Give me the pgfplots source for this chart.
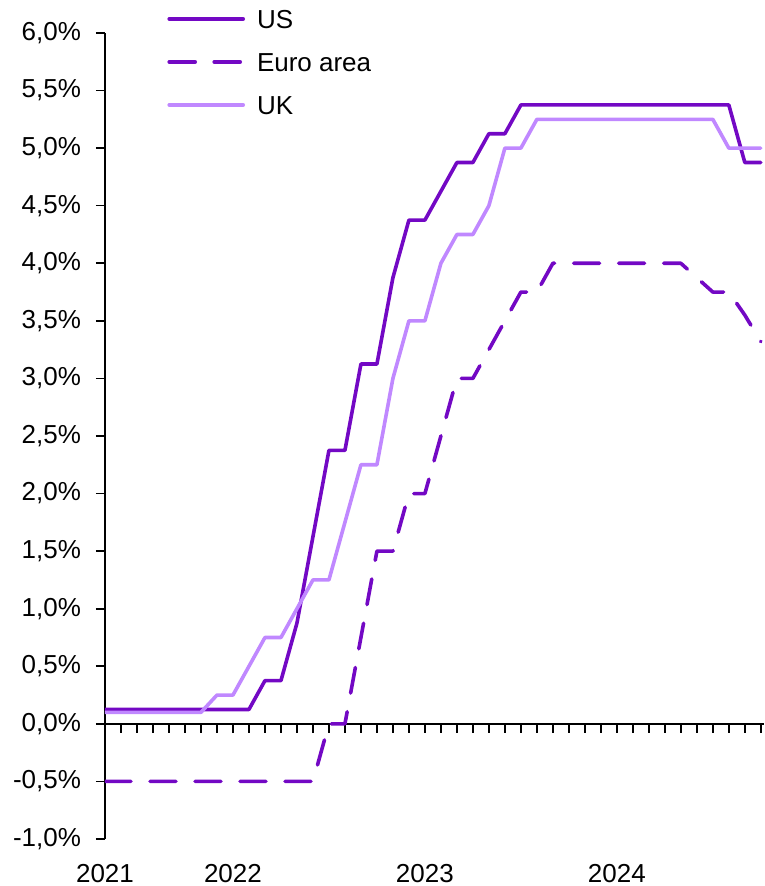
\documentclass[border=0pt]{standalone}
\usepackage{fontspec}
\setmainfont{Liberation Sans}
\usepackage{pgfplots}
\pgfplotsset{compat=1.18}
\usepackage{pgfplotstable}

\definecolor{usc}{RGB}{115,8,196}
\definecolor{ukc}{RGB}{192,136,255}

% month index 0 = start of the series, 41 = last month shown
\pgfplotstableread{
m us ea uk
0 0.125 -0.5 0.1
1 0.125 -0.5 0.1
2 0.125 -0.5 0.1
3 0.125 -0.5 0.1
4 0.125 -0.5 0.1
5 0.125 -0.5 0.1
6 0.125 -0.5 0.1
7 0.125 -0.5 0.25
8 0.125 -0.5 0.25
9 0.125 -0.5 0.5
10 0.375 -0.5 0.75
11 0.375 -0.5 0.75
12 0.875 -0.5 1.0
13 1.625 -0.5 1.25
14 2.375 0.0 1.25
15 2.375 0.0 1.75
16 3.125 0.75 2.25
17 3.125 1.5 2.25
18 3.875 1.5 3.0
19 4.375 2.0 3.5
20 4.375 2.0 3.5
21 4.625 2.5 4.0
22 4.875 3.0 4.25
23 4.875 3.0 4.25
24 5.125 3.25 4.5
25 5.125 3.5 5.0
26 5.375 3.75 5.0
27 5.375 3.75 5.25
28 5.375 4.0 5.25
29 5.375 4.0 5.25
30 5.375 4.0 5.25
31 5.375 4.0 5.25
32 5.375 4.0 5.25
33 5.375 4.0 5.25
34 5.375 4.0 5.25
35 5.375 4.0 5.25
36 5.375 4.0 5.25
37 5.375 3.875 5.25
38 5.375 3.75 5.25
39 5.375 3.75 5.0
40 4.875 3.55 5.0
41 4.875 3.32 5.0
}\rates

\begin{document}
\begin{tikzpicture}
% page size: 382pt x 443pt, axis box 329.5pt x 403pt
\useasboundingbox (-52.5pt,-23.5pt) rectangle (329.5pt,419.5pt);
\begin{axis}[
    at={(0,0)}, anchor=south west,
    scale only axis,
    width=329.5pt, height=403pt,
    xmin=0, xmax=41.2,
    ymin=-1, ymax=6,
    axis y line=left,
    axis x line=middle,
    axis line style={-, line width=0.8pt},
    hide obscured x ticks=false,
    hide obscured y ticks=false,
    tick align=outside,
    tick style={black, line width=0.8pt},
    major tick length=4.5pt,
    minor tick length=4.5pt,
    xtick={0,8,20,32},
    xticklabels={2021,2022,2023,2024},
    minor xtick={1,...,41},
    xticklabel style={yshift=-62pt},
    ytick={-1,-0.5,...,6},
    yticklabels={{-1,0\%},{-0,5\%},{0,0\%},{0,5\%},{1,0\%},{1,5\%},{2,0\%},{2,5\%},{3,0\%},{3,5\%},{4,0\%},{4,5\%},{5,0\%},{5,5\%},{6,0\%}},
    yticklabel style={xshift=-4pt},
    ticklabel style={font=\fontsize{13}{15}\selectfont},
    clip=true,
    legend cell align=left,
    legend style={
        at={(rel axis cs:0,1)}, anchor=north west,
        xshift=31pt, yshift=13pt,
        draw=none, fill=none,
        font=\fontsize{13}{15}\selectfont,
        row sep=10pt, column sep=5pt, inner sep=0pt,
        nodes={inner sep=1pt, text height=9.5pt, text depth=0pt},
    },
    legend image code/.code={\draw[#1] (0pt,0pt) -- (37pt,0pt);},
    every axis plot/.append style={line width=1.8pt, line cap=round, line join=round},
]
\addplot[usc] table[x=m, y=us] {\rates};
\addlegendentry{US}
\addplot[usc, dash pattern=on 13pt off 9.5pt] table[x=m, y=ea] {\rates};
\addlegendentry{Euro area}
\addplot[ukc] table[x=m, y=uk] {\rates};
\addlegendentry{UK}
\end{axis}
\end{tikzpicture}
\end{document}
